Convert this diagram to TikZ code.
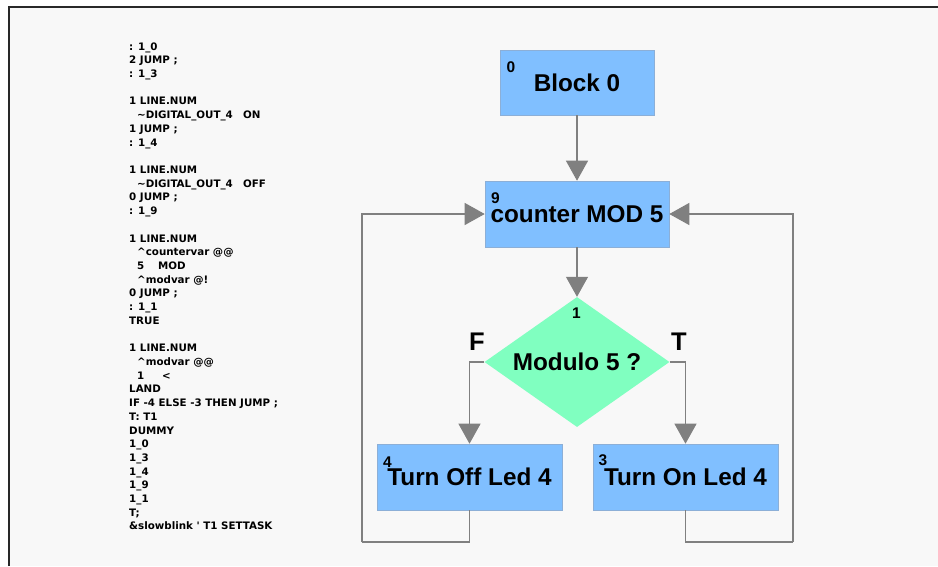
\documentclass[tikz,border=0pt]{standalone}
\usepackage{fontspec}
\setmainfont{Liberation Sans}
\newfontfamily\codefont{DejaVu Sans}[Ligatures=ResetAll]
\usetikzlibrary{arrows.meta,shapes.geometric}
\definecolor{bgcol}{RGB}{248,248,248}
\definecolor{framecol}{RGB}{40,40,40}
\definecolor{boxblue}{RGB}{128,191,255}
\definecolor{boxedge}{RGB}{140,175,215}
\definecolor{mint}{RGB}{128,255,192}
\definecolor{linegray}{RGB}{128,128,128}
\tikzset{
  code/.style={anchor=base west, inner sep=0pt, font=\codefont\bfseries\fontsize{10.3}{12}\selectfont},
  blk/.style={rectangle, fill=boxblue, draw=boxedge, line width=0.6pt, inner sep=0pt,
    font=\bfseries\fontsize{24.3}{28}\selectfont},
  dec/.style={diamond, fill=mint, aspect=1.42, minimum width=185pt, minimum height=130pt, inner sep=0pt,
    font=\bfseries\fontsize{24.3}{28}\selectfont},
  num/.style={inner sep=0pt, font=\bfseries\fontsize{15.5}{18}\selectfont},
  tf/.style={inner sep=0pt, font=\bfseries\fontsize{25.5}{30}\selectfont},
  flow/.style={draw=linegray, line width=1.1pt, -{Triangle[length=20pt,width=22pt,fill=linegray]}},
  wire/.style={draw=linegray, line width=1.1pt}
}
\begin{document}
\begin{tikzpicture}[x=1pt,y=-1pt]
\useasboundingbox (0,0) rectangle (938,566);
\fill[white] (0,0) rectangle (938,566);
\fill[bgcol] (9,7) rectangle (938,566);
\draw[framecol, line width=2pt] (9,566) -- (9,7) -- (938,7);

% code listing
\foreach \n/\t in {
 0/{: 1\_0},
 1/{2 JUMP ;},
 2/{: 1\_3},
 4/{1 LINE.NUM},
 5/{\hspace*{8pt}\makebox[106pt][l]{\textasciitilde DIGITAL\_OUT\_4}ON},
 6/{1 JUMP ;},
 7/{: 1\_4},
 9/{1 LINE.NUM},
 10/{\hspace*{8pt}\makebox[106pt][l]{\textasciitilde DIGITAL\_OUT\_4}OFF},
 11/{0 JUMP ;},
 12/{: 1\_9},
 14/{1 LINE.NUM},
 15/{\hspace*{8pt}\textasciicircum countervar @@},
 16/{\hspace*{8pt}\makebox[21pt][l]{5}MOD},
 17/{\hspace*{8pt}\textasciicircum modvar @!},
 18/{0 JUMP ;},
 19/{: 1\_1},
 20/{TRUE},
 22/{1 LINE.NUM},
 23/{\hspace*{8pt}\textasciicircum modvar @@},
 24/{\hspace*{8pt}\makebox[25pt][l]{1}<},
 25/{LAND},
 26/{IF -4 ELSE -3 THEN JUMP ;},
 27/{T: T1},
 28/{DUMMY},
 29/{1\_0},
 30/{1\_3},
 31/{1\_4},
 32/{1\_9},
 33/{1\_1},
 34/{T;},
 35/{\&slowblink ' T1 SETTASK}}
  \node[code] (c\n) at (129,50+\n*13.714) {\t};

% blocks
\node[blk, minimum width=154pt, minimum height=65pt] (b0) at (577,82.5) {Block 0};
\node[blk, minimum width=184pt, minimum height=66pt] (b9) at (577,214) {counter MOD 5};
\node[dec] (d1) at (577,362) {Modulo 5 ?};
\node[blk, minimum width=185pt, minimum height=66pt] (b4) at (469.5,477) {Turn Off Led 4};
\node[blk, minimum width=185pt, minimum height=66pt] (b3) at (685.5,477) {Turn On Led 4};

% block numbers
\node[num] (n0) at (511,67.5) {0};
\node[num] (n9) at (495.5,198.5) {9};
\node[num] (n1) at (576.5,313.5) {1};
\node[num] (n4) at (387.5,462) {4};
\node[num] (n3) at (603,460.5) {3};

% branch labels
\node[tf] (lf) at (477,341.5) {F};
\node[tf] (lt) at (679,341.5) {T};

% connectors
\coordinate (lb) at (362,542);
\coordinate (rb) at (793,542);
\draw[flow] (b0.south) -- (b9.north);
\draw[flow] (b9.south) -- (d1.north);
\draw[flow] (d1.west) -| (b4.north);
\draw[flow] (d1.east) -| (b3.north);
\draw[wire] (b4.south) |- (lb);
\draw[flow] (lb) |- (b9.west);
\draw[wire] (b3.south) |- (rb);
\draw[flow] (rb) |- (b9.east);
\end{tikzpicture}
\end{document}
